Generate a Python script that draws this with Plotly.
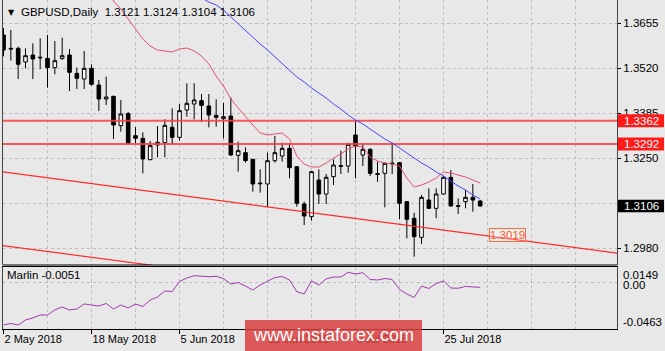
import plotly.graph_objects as go

# ---------------- data ----------------
bar_index = list(range(66))
open_ = [1.3619, 1.3579, 1.3579, 1.3538, 1.3559, 1.3550, 1.3549, 1.3521, 1.3549, 1.3559,
         1.3504, 1.3487, 1.3519, 1.3469, 1.3427, 1.3435, 1.3347, 1.3383, 1.3317, 1.3309,
         1.3245, 1.3289, 1.3296, 1.3342, 1.3312, 1.3394, 1.3412, 1.3422, 1.3406, 1.3378,
         1.3368, 1.3376, 1.3258, 1.3266, 1.3246, 1.3175, 1.3172, 1.3242, 1.3256, 1.3279,
         1.3224, 1.3112, 1.3074, 1.3184, 1.3142, 1.3194, 1.3227, 1.3226, 1.3319, 1.3259,
         1.3276, 1.3203, 1.3204, 1.3235, 1.3236, 1.3119, 1.3069, 1.3012, 1.3124, 1.3099,
         1.3142, 1.3192, 1.3107, 1.3119, 1.3132, 1.3121]
high = [1.3640, 1.3634, 1.3584, 1.3579, 1.3594, 1.3609, 1.3619, 1.3601, 1.3611, 1.3577,
        1.3521, 1.3571, 1.3531, 1.3484, 1.3494, 1.3437, 1.3424, 1.3388, 1.3343, 1.3327,
        1.3301, 1.3346, 1.3366, 1.3399, 1.3412, 1.3474, 1.3474, 1.3442, 1.3442, 1.3426,
        1.3415, 1.3432, 1.3299, 1.3282, 1.3247, 1.3216, 1.3266, 1.3316, 1.3296, 1.3294,
        1.3226, 1.3119, 1.3211, 1.3216, 1.3202, 1.3246, 1.3272, 1.3296, 1.3364, 1.3294,
        1.3279, 1.3239, 1.3236, 1.3296, 1.3238, 1.3121, 1.3086, 1.3139, 1.3159, 1.3159,
        1.3196, 1.3214, 1.3129, 1.3154, 1.3172, 1.3124]
low = [1.3555, 1.3542, 1.3487, 1.3519, 1.3487, 1.3517, 1.3461, 1.3501, 1.3544, 1.3451,
       1.3457, 1.3457, 1.3467, 1.3391, 1.3409, 1.3307, 1.3329, 1.3294, 1.3294, 1.3204,
       1.3243, 1.3252, 1.3252, 1.3292, 1.3302, 1.3374, 1.3366, 1.3358, 1.3342, 1.3344,
       1.3309, 1.3256, 1.3209, 1.3236, 1.3149, 1.3146, 1.3102, 1.3236, 1.3239, 1.3189,
       1.3104, 1.3049, 1.3062, 1.3112, 1.3112, 1.3169, 1.3202, 1.3206, 1.3189, 1.3226,
       1.3196, 1.3179, 1.3102, 1.3202, 1.3066, 1.3009, 1.2954, 1.2992, 1.3097, 1.3069,
       1.3140, 1.3104, 1.3082, 1.3099, 1.3089, 1.3104]
close = [1.3574, 1.3577, 1.3531, 1.3557, 1.3547, 1.3552, 1.3521, 1.3542, 1.3557, 1.3507,
         1.3489, 1.3519, 1.3471, 1.3427, 1.3433, 1.3349, 1.3382, 1.3294, 1.3309, 1.3247,
         1.3287, 1.3297, 1.3348, 1.3312, 1.3392, 1.3414, 1.3424, 1.3408, 1.3379, 1.3372,
         1.3374, 1.3259, 1.3272, 1.3242, 1.3172, 1.3173, 1.3242, 1.3266, 1.3279, 1.3221,
         1.3114, 1.3076, 1.3209, 1.3142, 1.3192, 1.3229, 1.3225, 1.3291, 1.3286, 1.3276,
         1.3204, 1.3201, 1.3234, 1.3233, 1.3114, 1.3066, 1.3014, 1.3132, 1.3099, 1.3142,
         1.3192, 1.3106, 1.3105, 1.3132, 1.3124, 1.3106]

ma_red = [None] * 14 + [
    1.3754, 1.3721, 1.3697, 1.3667, 1.3634, 1.3607, 1.3586, 1.3574, 1.3571, 1.3568,
    1.3577, 1.3580, 1.3571, 1.3556, 1.3532, 1.3496, 1.3466, 1.3427, 1.3400, 1.3373,
    1.3349, 1.3325, 1.3319, 1.3322, 1.3325, 1.3307, 1.3256, 1.3232, 1.3223, 1.3223,
    1.3235, 1.3250, 1.3262, 1.3277, 1.3286, 1.3283, 1.3253, 1.3241, 1.3235, 1.3232,
    1.3226, 1.3190, 1.3163, 1.3169, 1.3178, 1.3190, 1.3208, 1.3205, 1.3199, 1.3193,
    1.3184, 1.3175]
ma_blue = [None] * 27 + [
    1.3730, 1.3718, 1.3709, 1.3694, 1.3673, 1.3652, 1.3634, 1.3613, 1.3592, 1.3574,
    1.3553, 1.3535, 1.3514, 1.3493, 1.3478, 1.3460, 1.3445, 1.3430, 1.3412, 1.3397,
    1.3379, 1.3364, 1.3352, 1.3337, 1.3322, 1.3307, 1.3295, 1.3280, 1.3265, 1.3250,
    1.3235, 1.3223, 1.3208, 1.3196, 1.3181, 1.3166, 1.3154, 1.3139, 1.3127]
marlin = [-0.0423, -0.0409, -0.0423, -0.0374, -0.0354, -0.0325, -0.0325, -0.0275, -0.0246, -0.0275,
          -0.0266, -0.0216, -0.0226, -0.0236, -0.0211, -0.0266, -0.0226, -0.0256, -0.0216, -0.0241,
          -0.0177, -0.0147, -0.0088, -0.0093, 0.0006, 0.0040, 0.0063, 0.0055, 0.0053, 0.0057,
          0.0035, -0.0019, -0.0004, -0.0039, -0.0078, -0.0029, 0.0011, 0.0045, 0.0055, 0.0021,
          -0.0095, -0.0117, 0.0011, -0.0029, 0.0031, 0.0050, 0.0050, 0.0097, 0.0080, 0.0093,
          0.0026, 0.0021, 0.0035, 0.0026, -0.0073, -0.0117, -0.0152, -0.0039, -0.0063, -0.0014,
          0.0011, -0.0058, -0.0061, -0.0043, -0.0048, -0.0051]

levels = [1.3362, 1.3292]
channel_bars = [0, 65]
channel_upper = [1.3208, 1.3019]
channel_lower_start = 1.2987
price_ticks = [1.3655, 1.3520, 1.3385, 1.3250, 1.3115, 1.2980]
price_ticktext = ["1.3655", "1.3520", "1.3385", "1.3250", "", "1.2980"]
date_ticks = [0, 12, 24, 36, 48, 60]
date_labels = ["2 May 2018", "18 May 2018", "5 Jun 2018", "21 Jun 2018", "9 Jul 2018", "25 Jul 2018"]
grid_bars = list(range(0, 84, 6))
marlin_scale = [0.0149, -0.0463]
marlin_ticktext = ["0.0149", "0.00", "-0.0463"]
title_text = "GBPUSD,Daily  1.3121 1.3124 1.3104 1.3106"
marlin_name = "Marlin -0.0051"
current_price = close[-1]

# ---------------- layout helpers ----------------
W, H = 665, 351
ML, MR, MT, MB = 3, 48, 0, 22
PW, PH = W - ML - MR, H - MT - MB


def px_x(x):
    return (x - ML) / PW


def px_y(y):
    return (PH + MT - y) / PH


BG = "#e8e8e8"
GRID = "#bdbdbd"
FONT = "Liberation Sans"
X_RANGE = [-0.07, 83.66]
Y_RANGE = [1.2929, 1.3724]

fig = go.Figure()

fig.add_trace(go.Candlestick(
    x=bar_index, open=open_, high=high, low=low, close=close,
    increasing=dict(fillcolor="white", line=dict(color="black", width=1)),
    decreasing=dict(fillcolor="black", line=dict(color="black", width=1)),
    whiskerwidth=0, showlegend=False, hoverinfo="skip",
    xaxis="x", yaxis="y"))

# channel trend lines (rays extended across the chart)
slope = (channel_upper[1] - channel_upper[0]) / (channel_bars[1] - channel_bars[0])
ext = [X_RANGE[0] - 2, X_RANGE[1] + 2]
fig.add_trace(go.Scatter(
    x=ext, y=[channel_upper[0] + slope * (e - channel_bars[0]) for e in ext],
    mode="lines", line=dict(color="#ff2a2a", width=1.2), showlegend=False, hoverinfo="skip"))
fig.add_trace(go.Scatter(
    x=ext, y=[channel_lower_start + slope * (e - channel_bars[0]) for e in ext],
    mode="lines", line=dict(color="#ff2a2a", width=1.2), showlegend=False, hoverinfo="skip"))

# horizontal levels
for lv in levels:
    fig.add_trace(go.Scatter(
        x=ext, y=[lv, lv], mode="lines",
        line=dict(color="rgba(255,60,60,0.85)", width=2), showlegend=False, hoverinfo="skip"))

fig.add_trace(go.Scatter(x=bar_index, y=ma_red, mode="lines",
                         line=dict(color="#e5506e", width=1), showlegend=False, hoverinfo="skip"))
fig.add_trace(go.Scatter(x=bar_index, y=ma_blue, mode="lines",
                         line=dict(color="#4646ff", width=1), showlegend=False, hoverinfo="skip"))

fig.add_trace(go.Scatter(x=bar_index, y=marlin, mode="lines",
                         line=dict(color="#a03aae", width=1), showlegend=False, hoverinfo="skip",
                         xaxis="x2", yaxis="y2"))

main_dom = [px_y(265), 1]
sub_dom = [0, px_y(267)]

fig.update_layout(
    width=W, height=H,
    margin=dict(l=ML, r=MR, t=MT, b=MB),
    paper_bgcolor=BG, plot_bgcolor=BG,
    font=dict(family=FONT, size=11, color="black"),
    showlegend=False,
    boxgap=0.3,
    xaxis=dict(domain=[0, 1], range=X_RANGE, anchor="y", rangeslider=dict(visible=False),
               showticklabels=False, ticks="", tickvals=grid_bars, showgrid=True,
               gridcolor=GRID, griddash="3px,3px", gridwidth=1, zeroline=False, showline=False),
    yaxis=dict(domain=main_dom, range=Y_RANGE, side="right", tickvals=price_ticks,
               ticktext=price_ticktext, ticks="outside", ticklen=3, tickcolor="black",
               tickfont=dict(size=11.5, family=FONT), showgrid=True, gridcolor=GRID,
               griddash="3px,3px", zeroline=False, showline=True, mirror=True,
               linecolor="#444", linewidth=1),
    xaxis2=dict(domain=[0, 1], range=X_RANGE, anchor="y2", tickvals=date_ticks,
                ticktext=date_labels, ticks="outside", ticklen=4, tickcolor="black",
                ticklabelposition="outside right", tickfont=dict(size=11, family=FONT),
                showgrid=True, gridcolor=GRID, griddash="3px,3px",
                minor=dict(tickvals=grid_bars, showgrid=True, gridcolor=GRID,
                           griddash="3px,3px", ticks=""),
                zeroline=False, showline=True, mirror=True, linecolor="black", linewidth=1),
    yaxis2=dict(domain=sub_dom, range=[marlin_scale[1], marlin_scale[0]], side="right",
                tickvals=[0], showticklabels=False, ticks="", showgrid=True, gridcolor=GRID,
                griddash="3px,3px", zeroline=False, showline=True, mirror=True,
                linecolor="#444", linewidth=1),
)

shapes = []
ann = []

# bottom border of main window
shapes.append(dict(type="line", xref="x domain", yref="y domain", x0=0, x1=1, y0=0, y1=0,
                   line=dict(color="black", width=1)))

# price boxes on the right axis
for lv in levels:
    shapes.append(dict(type="rect", xref="paper", yref="y", x0=px_x(618), x1=px_x(664),
                       y0=lv - 0.00195, y1=lv + 0.00195, fillcolor="#ff1a1a",
                       line=dict(width=0), layer="above"))
    ann.append(dict(xref="paper", yref="y", x=px_x(641), y=lv, text=f"{lv:.4f}",
                    showarrow=False, font=dict(color="white", size=11.5, family=FONT),
                    xanchor="center", yanchor="middle"))
shapes.append(dict(type="rect", xref="paper", yref="y", x0=px_x(618), x1=px_x(664),
                   y0=current_price - 0.0019, y1=current_price + 0.0019, fillcolor="black",
                   line=dict(width=0), layer="above"))
ann.append(dict(xref="paper", yref="y", x=px_x(641), y=current_price,
                text=f"{current_price:.4f}", showarrow=False,
                font=dict(color="white", size=11.5, family=FONT), xanchor="center", yanchor="middle"))

# trendline price label
tl_price = channel_upper[1]
ann.append(dict(xref="paper", yref="y", x=px_x(507.5), y=tl_price, text=f"{tl_price:.4f}",
                showarrow=False, font=dict(color="#ff5a2a", size=11.5, family=FONT),
                bordercolor="#ff6a3a", borderwidth=1, borderpad=0,
                bgcolor="rgba(255,255,255,0.25)", xanchor="center", yanchor="middle"))

# title
ann.append(dict(xref="paper", yref="paper", x=px_x(6), y=px_y(12), text="▼", showarrow=False,
                font=dict(size=8, color="black", family="DejaVu Sans"), xanchor="left", yanchor="middle"))
ann.append(dict(xref="paper", yref="paper", x=px_x(19), y=px_y(12), text=title_text,
                showarrow=False, font=dict(size=11.5, color="black", family=FONT),
                xanchor="left", yanchor="middle"))

# indicator name and scale labels
ann.append(dict(xref="paper", yref="paper", x=px_x(5), y=px_y(275), text=marlin_name,
                showarrow=False, font=dict(size=11.5, color="black", family=FONT),
                xanchor="left", yanchor="middle"))
for txt, ypx in zip(marlin_ticktext, [275, 285, 322]):
    ann.append(dict(xref="paper", yref="paper", x=px_x(621), y=px_y(ypx), text=txt,
                    showarrow=False, font=dict(size=11.5, color="black", family=FONT),
                    xanchor="left", yanchor="middle"))

# watermark
shapes.append(dict(type="rect", xref="paper", yref="paper", x0=px_x(245), x1=px_x(422),
                   y0=px_y(352), y1=px_y(320), fillcolor="rgba(216,64,64,0.85)",
                   line=dict(width=0), layer="above"))
ann.append(dict(xref="paper", yref="paper", x=px_x(333), y=px_y(335), text="www.instaforex.com",
                showarrow=False, font=dict(size=18, color="white", family=FONT),
                xanchor="center", yanchor="middle"))

fig.update_layout(shapes=shapes, annotations=ann)

fig.write_html("out.html", config={"displayModeBar": False})
